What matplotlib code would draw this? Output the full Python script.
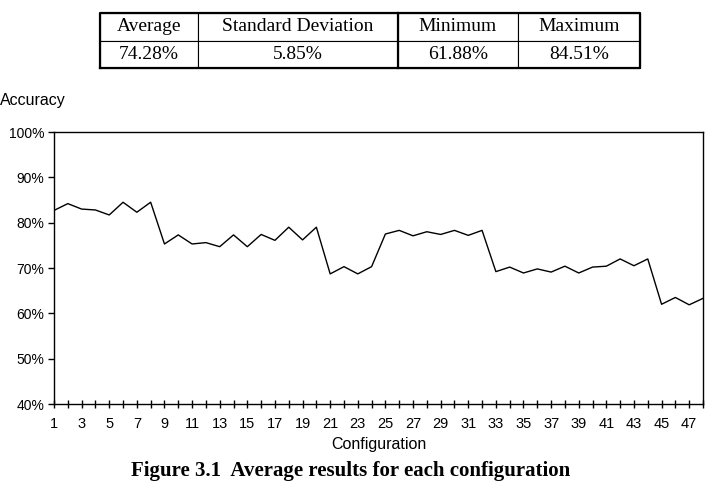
import matplotlib
matplotlib.use("Agg")
import matplotlib.pyplot as plt
from matplotlib.ticker import MultipleLocator, FixedLocator

# accuracy (%) per configuration
configs = list(range(1, 49))
accuracy = [82.7, 84.2, 83.0, 82.8, 81.7, 84.5, 82.3, 84.51,
            75.3, 77.3, 75.3, 75.6, 74.7, 77.3, 74.7, 77.4, 76.1, 79.0, 76.2, 79.0,
            68.7, 70.3, 68.7, 70.3,
            77.5, 78.3, 77.1, 78.0, 77.4, 78.3, 77.2, 78.3,
            69.2, 70.2, 68.9, 69.8, 69.1, 70.4, 68.9, 70.2, 70.4, 72.0, 70.5, 72.0,
            62.0, 63.5, 61.88, 63.3]

stat_names = ["Average", "Standard Deviation", "Minimum", "Maximum"]
stat_values = ["74.28%", "5.85%", "61.88%", "84.51%"]
col_widths = [98, 200, 120, 122]

yticks = [40, 50, 60, 70, 80, 90, 100]
xlabels_at = list(range(1, 49, 2))

W, H = 708, 487
fig = plt.figure(figsize=(W / 100, H / 100), dpi=100)
sans = "Liberation Sans"
serif = "Liberation Serif"

# summary table on top
tax = fig.add_axes([100 / W, 1 - 68 / H, 540 / W, 55 / H])
tax.axis("off")
tot = sum(col_widths)
tbl = tax.table(cellText=[stat_names, stat_values], cellLoc="center",
                colWidths=[w / tot for w in col_widths], bbox=[0, 0, 1, 1])
tbl.auto_set_font_size(False)
for (r, c), cell in tbl.get_celld().items():
    cell.set_linewidth(0.8)
    cell.set_edgecolor("black")
    cell.get_text().set_fontfamily(serif)
    cell.get_text().set_fontsize(14)
tax.plot([0, 1, 1, 0, 0], [0, 0, 1, 1, 0], color="black", lw=1.6,
         transform=tax.transAxes, clip_on=False)
x_split = (col_widths[0] + col_widths[1]) / tot
tax.plot([x_split, x_split], [0, 1], color="black", lw=1.6,
         transform=tax.transAxes, clip_on=False)

# main line chart
ax = fig.add_axes([54 / W, 1 - 404 / H, 649 / W, 272 / H])
ax.plot(configs, accuracy, color="black", lw=1.0)
ax.set_xlim(1, 48)
ax.set_ylim(40, 100)
ax.set_yticks(yticks)
ax.set_yticklabels([f"{v}%" for v in yticks], fontfamily=sans, fontsize=10)
ax.xaxis.set_major_locator(FixedLocator(xlabels_at))
ax.xaxis.set_minor_locator(MultipleLocator(1))
ax.set_xticklabels([str(v) for v in xlabels_at], fontfamily=sans, fontsize=10.5)
ax.tick_params(axis="x", which="both", direction="inout", length=6, width=1,
               pad=6)
ax.tick_params(axis="y", direction="out", length=4, width=1, pad=3)
for s in ax.spines.values():
    s.set_linewidth(1.0)

ax.set_xlabel("Configuration", fontfamily=sans, fontsize=11.5, labelpad=5)
fig.text(0.0, 1 - 101 / H, "Accuracy", fontfamily=sans, fontsize=11.5,
         ha="left", va="center")
fig.text(351 / W, 1 - 471 / H, "Figure 3.1  Average results for each configuration",
         fontfamily=serif, fontweight="bold", fontsize=15, ha="center",
         va="center")

fig.savefig("out.png", dpi=100)
